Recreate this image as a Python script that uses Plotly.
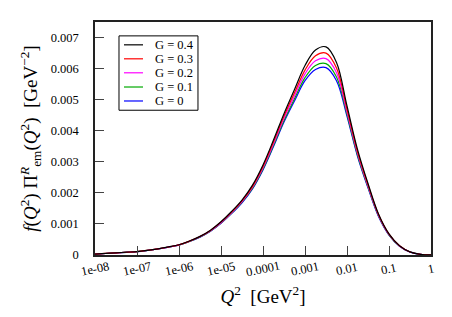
import math
import plotly.graph_objects as go

# log10(Q^2) sample points (quarter decades from 1e-8 to 1)
log_q2 = [-8, -7.75, -7.5, -7.25, -7, -6.75, -6.5, -6.25, -6, -5.75, -5.5, -5.25,
          -5, -4.75, -4.5, -4.25, -4, -3.75, -3.5, -3.25, -3, -2.75, -2.5, -2.25,
          -2, -1.75, -1.5, -1.25, -1, -0.75, -0.5, -0.25, 0]
q2 = [10 ** e for e in log_q2]

g04 = [0.000030, 0.000050, 0.000070, 0.000090, 0.000110, 0.000150, 0.000200, 0.000260,
       0.000330, 0.000450, 0.000600, 0.000800, 0.001070, 0.001400, 0.001770, 0.002250,
       0.002900, 0.003700, 0.004550, 0.005330, 0.006100, 0.006600, 0.006700, 0.006200,
       0.004800, 0.003400, 0.002300, 0.001320, 0.000680, 0.000300, 0.000100, 0.000020, 0.000003]
g03 = [0.000030, 0.000050, 0.000069, 0.000089, 0.000109, 0.000149, 0.000198, 0.000258,
       0.000327, 0.000446, 0.000593, 0.000790, 0.001060, 0.001380, 0.001740, 0.002210,
       0.002850, 0.003640, 0.004470, 0.005220, 0.005950, 0.006410, 0.006500, 0.006020,
       0.004700, 0.003330, 0.002260, 0.001300, 0.000670, 0.000295, 0.000098, 0.000020, 0.000003]
g02 = [0.000029, 0.000049, 0.000069, 0.000088, 0.000108, 0.000148, 0.000197, 0.000256,
       0.000324, 0.000442, 0.000587, 0.000781, 0.001040, 0.001360, 0.001720, 0.002180,
       0.002810, 0.003580, 0.004400, 0.005120, 0.005830, 0.006250, 0.006320, 0.005870,
       0.004610, 0.003280, 0.002220, 0.001280, 0.000660, 0.000290, 0.000097, 0.000019, 0.000003]
g01 = [0.000029, 0.000049, 0.000068, 0.000088, 0.000108, 0.000147, 0.000195, 0.000254,
       0.000322, 0.000438, 0.000581, 0.000773, 0.001030, 0.001340, 0.001700, 0.002150,
       0.002770, 0.003530, 0.004330, 0.005030, 0.005710, 0.006100, 0.006160, 0.005730,
       0.004530, 0.003220, 0.002190, 0.001260, 0.000650, 0.000286, 0.000095, 0.000019, 0.000003]
g00 = [0.000029, 0.000049, 0.000068, 0.000087, 0.000107, 0.000146, 0.000194, 0.000252,
       0.000320, 0.000435, 0.000576, 0.000766, 0.001020, 0.001330, 0.001680, 0.002130,
       0.002740, 0.003490, 0.004280, 0.004960, 0.005610, 0.005970, 0.006030, 0.005610,
       0.004460, 0.003180, 0.002160, 0.001240, 0.000640, 0.000283, 0.000094, 0.000019, 0.000003]

series_labels = ["G = 0.4", "G = 0.3", "G = 0.2", "G = 0.1", "G = 0"]
series_values = [g04, g03, g02, g01, g00]
series_colors = ["#000000", "#ff0000", "#ff00ff", "#00aa00", "#0000ff"]

x_tickvals = [1e-8, 1e-7, 1e-6, 1e-5, 1e-4, 1e-3, 1e-2, 1e-1, 1]
x_ticktext = ["1e-08", "1e-07", "1e-06", "1e-05", "0.0001", "0.001", "0.01", "0.1", "1"]
y_tickvals = [0, 0.001, 0.002, 0.003, 0.004, 0.005, 0.006, 0.007]
y_ticktext = ["0", "0.001", "0.002", "0.003", "0.004", "0.005", "0.006", "0.007"]

FONT = "Liberation Serif"

fig = go.Figure()
# draw G=0 first so the black curve is on top
for lab, vals, col in reversed(list(zip(series_labels, series_values, series_colors))):
    fig.add_trace(go.Scatter(x=q2, y=vals, mode="lines", name=lab,
                             line=dict(color=col, width=1.2, shape="spline", smoothing=1.0),
                             showlegend=False))

# manual legend (compact, like the original)
leg_x0, leg_x1 = 0.0714, 0.3065
leg_y0, leg_y1 = 0.6213, 0.9404
fig.add_shape(type="rect", xref="paper", yref="paper", x0=leg_x0, x1=leg_x1,
              y0=leg_y0, y1=leg_y1, line=dict(color="black", width=1), fillcolor="white")
row_y = [0.902, 0.842, 0.782, 0.721, 0.661]
for i, (lab, col) in enumerate(zip(series_labels, series_colors)):
    fig.add_shape(type="line", xref="paper", yref="paper", x0=0.0863, x1=0.1429,
                  y0=row_y[i], y1=row_y[i], line=dict(color=col, width=1.2))
    fig.add_annotation(xref="paper", yref="paper", x=0.1726, y=row_y[i], text=lab,
                       showarrow=False, xanchor="left", yanchor="middle",
                       font=dict(family=FONT, size=12.5, color="black"))

# slanted x tick labels, centred on their ticks
for v, t in zip(x_tickvals, x_ticktext):
    fig.add_annotation(xref="x", yref="paper", x=math.log10(v), y=-0.062, text=t,
                       showarrow=False, textangle=-12, xanchor="center", yanchor="middle",
                       font=dict(family=FONT, size=12.5, color="black"))

fig.update_layout(
    width=452, height=317,
    margin=dict(l=87, r=29, t=12, b=70),
    paper_bgcolor="white", plot_bgcolor="white",
    font=dict(family=FONT, color="black", size=12),
)
fig.update_xaxes(
    type="log", range=[-8, 0],
    tickvals=x_tickvals, showticklabels=False,
    ticks="inside", ticklen=9, tickwidth=1.2, tickcolor="#444",
    showline=True, linecolor="#222", linewidth=1.5, mirror=True,
    showgrid=False, zeroline=False,
    title=dict(text="<i>Q</i><sup>2</sup>  [GeV<sup>2</sup>]", font=dict(family=FONT, size=19), standoff=34),
)
fig.update_yaxes(
    range=[0, 0.0075],
    tickvals=y_tickvals, ticktext=y_ticktext,
    ticks="inside", ticklen=9, tickwidth=1.2, tickcolor="#444",
    ticklabelstandoff=12,
    showline=True, linecolor="#222", linewidth=1.5, mirror=True,
    showgrid=False, zeroline=False,
    tickfont=dict(family=FONT, size=12.5),
    title=dict(text="<i>f</i>(<i>Q</i><sup>2</sup>) Π<sup><i>R</i></sup><sub>em</sub>(<i>Q</i><sup>2</sup>)  [GeV<sup>−2</sup>]",
               font=dict(family=FONT, size=19), standoff=8),
)

fig.write_html("out.html")
